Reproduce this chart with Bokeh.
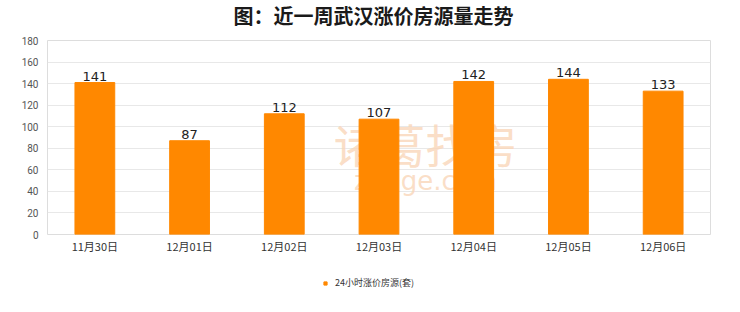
from bokeh.plotting import figure
from bokeh.layouts import column
from bokeh.models import ColumnDataSource, Legend, LegendItem, Range1d, LabelSet, Label
from bokeh.core.properties import value
from bokeh.embed import file_html
from bokeh.resources import INLINE

categories = ["11月30日", "12月01日", "12月02日", "12月03日", "12月04日", "12月05日", "12月06日"]
counts = [141, 87, 112, 107, 142, 144, 133]
series_name = "24小时涨价房源(套)"
title_text = "图：近一周武汉涨价房源量走势"
watermark_cn = "诸葛找房"
watermark_en = "zhuge.com"
y_ticks = [0, 20, 40, 60, 80, 100, 120, 140, 160, 180]

BAR_COLOR = "#ff8800"
W = 740


def bare(fig):
    fig.axis.visible = False
    fig.grid.visible = False
    fig.outline_line_color = None
    fig.background_fill_color = "#ffffff"
    fig.border_fill_color = "#ffffff"


# ---- title strip ----
tf = figure(width=W, height=30, output_backend="svg", toolbar_location=None,
            x_range=Range1d(0, W), y_range=Range1d(0, 30),
            min_border_left=0, min_border_right=0, min_border_top=0, min_border_bottom=0)
bare(tf)
tf.text(x=[W / 2 - 6], y=[15], text=[title_text], text_align="center", text_baseline="middle",
        text_font=value("Noto Sans CJK SC"), text_font_size="20px", text_font_style="bold",
        text_color="#1a1a1a")

# ---- main chart ----
src = ColumnDataSource(dict(cat=categories, val=counts, lab=[str(v) for v in counts]))

p = figure(width=W, height=232, x_range=categories, y_range=Range1d(0, 180),
           output_backend="svg", toolbar_location=None,
           min_border_left=47, min_border_right=30, min_border_top=10, min_border_bottom=28)
p.background_fill_color = "#ffffff"
p.border_fill_color = "#ffffff"
p.outline_line_color = "#dddddd"

# watermark (under the bars)
p.add_layout(Label(x=378, y=92, x_units="screen", y_units="screen", text=watermark_cn,
                   text_font="Noto Sans CJK SC", text_font_size="46px", text_color="#f9d6b8",
                   text_alpha=0.8, text_align="center", text_baseline="middle", level="underlay"))
p.add_layout(Label(x=378, y=54, x_units="screen", y_units="screen", text=watermark_en,
                   text_font="DejaVu Sans", text_font_size="26px", text_color="#f9d6b8",
                   text_alpha=0.8, text_align="center", text_baseline="middle", level="underlay"))

r = p.vbar(x="cat", top="val", width=0.42, source=src, color=BAR_COLOR, line_color=BAR_COLOR)

p.add_layout(LabelSet(x="cat", y="val", text="lab", source=src, text_align="center", y_offset=2,
                      text_font=value("DejaVu Sans"), text_font_size="13px", text_color="#222222"))

p.yaxis.ticker = y_ticks
p.xgrid.grid_line_color = None
p.ygrid.grid_line_color = "#e8e8e8"
for ax in (p.xaxis[0], p.yaxis[0]):
    ax.axis_line_color = None
    ax.major_tick_line_color = None
    ax.minor_tick_line_color = None
    ax.major_tick_out = 0
    ax.major_tick_in = 0
    ax.minor_tick_out = 0
p.yaxis.major_label_text_font = "Roboto"
p.yaxis.major_label_text_font_size = "10px"
p.yaxis.major_label_text_color = "#555555"
p.yaxis.major_label_standoff = 9
p.xaxis.major_label_text_font = "Noto Sans CJK SC"
p.xaxis.major_label_text_font_size = "11px"
p.xaxis.major_label_text_color = "#333333"
p.xaxis.major_label_standoff = 3

# ---- legend strip ----
lg = figure(width=W, height=50, output_backend="svg", toolbar_location=None,
            x_range=Range1d(0, 1), y_range=Range1d(0, 1),
            min_border_left=0, min_border_right=0, min_border_top=0, min_border_bottom=0)
bare(lg)
dummy = lg.scatter(x=[-5], y=[-5], marker="square", size=8, color=BAR_COLOR)
leg = Legend(items=[LegendItem(label=series_name, renderers=[dummy])], location=(274, 23),
             orientation="horizontal", label_text_font="Noto Sans CJK SC", label_text_font_size="9px",
             label_text_color="#333333", glyph_width=8, glyph_height=8, border_line_color=None,
             margin=0, padding=4, label_standoff=6, label_height=10)
lg.add_layout(leg)

layout = column(tf, p, lg, spacing=0)
open("out.html", "w").write(file_html(layout, INLINE))
